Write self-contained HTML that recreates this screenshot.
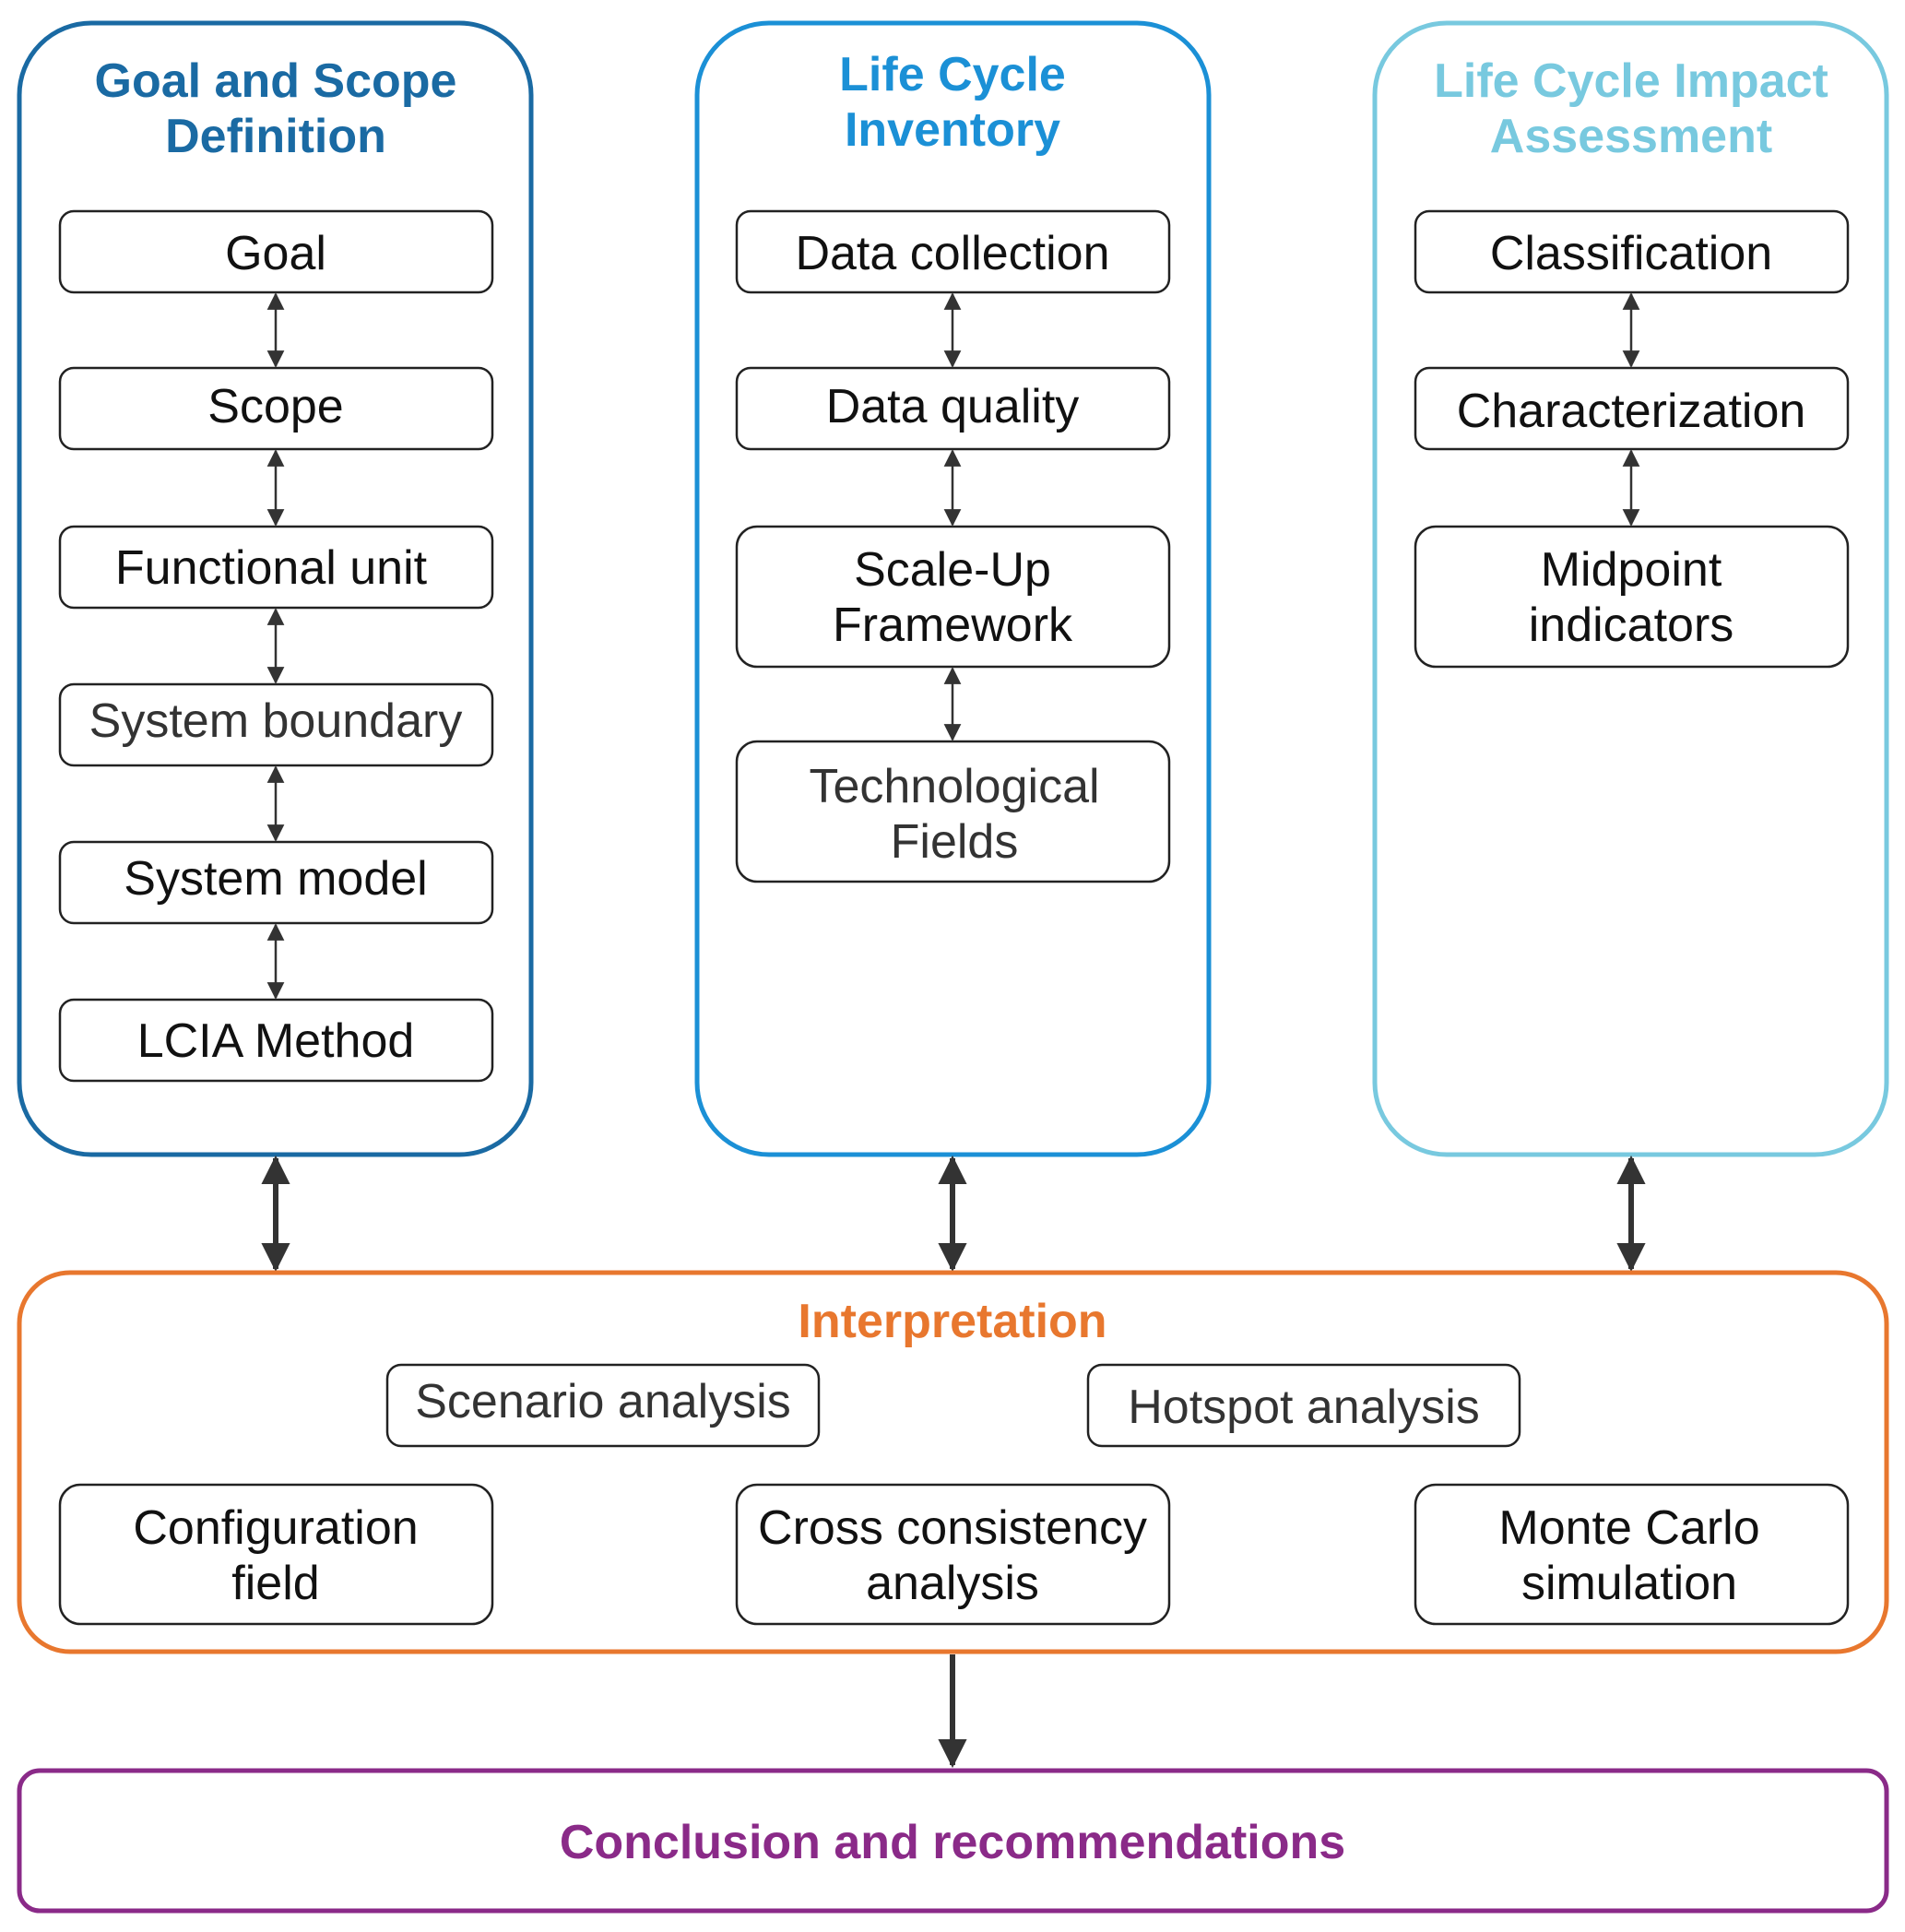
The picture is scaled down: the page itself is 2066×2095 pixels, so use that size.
<!DOCTYPE html>
<html><head><meta charset="utf-8"><style>
html,body{margin:0;padding:0;background:#fff}
svg{display:block}
text{font-family:"Liberation Sans",Arial,sans-serif;text-anchor:middle}
.t{font-size:52px;fill:#111}
.g{fill:#333}
.h{font-size:52px;font-weight:bold}
</style></head><body>
<svg width="2066" height="2095" viewBox="0 0 2066 2095" xmlns="http://www.w3.org/2000/svg">
<defs>
<marker id="a" viewBox="0 0 10 10" refX="9" refY="5" markerWidth="5.2" markerHeight="5.2" orient="auto-start-reverse"><path d="M0,0 L10,5 L0,10z" fill="#333"/></marker>
<marker id="b" viewBox="0 0 10 10" refX="9" refY="5" markerWidth="7.5" markerHeight="7.5" orient="auto-start-reverse"><path d="M0,0 L10,5 L0,10z" fill="#333"/></marker>
</defs>
<rect x="21" y="25" width="555" height="1227" rx="78" fill="none" stroke="#1a6aa3" stroke-width="5"/>
<rect x="756" y="25" width="555" height="1227" rx="78" fill="none" stroke="#1b90d6" stroke-width="5"/>
<rect x="1491" y="25" width="555" height="1227" rx="78" fill="none" stroke="#78c9df" stroke-width="5"/>
<text class="h" x="299" y="105" fill="#1a6aa3">Goal and Scope</text>
<text class="h" x="299" y="165" fill="#1a6aa3">Definition</text>
<text class="h" x="1033" y="98" fill="#1b90d6">Life Cycle</text>
<text class="h" x="1033" y="158" fill="#1b90d6">Inventory</text>
<text class="h" x="1769" y="105" fill="#78c9df">Life Cycle Impact</text>
<text class="h" x="1769" y="165" fill="#78c9df">Assessment</text>
<g fill="#fff" stroke="#222" stroke-width="2.5">
<rect x="65" y="229" width="469" height="88" rx="15"/>
<rect x="65" y="399" width="469" height="88" rx="15"/>
<rect x="65" y="571" width="469" height="88" rx="15"/>
<rect x="65" y="742" width="469" height="88" rx="15"/>
<rect x="65" y="913" width="469" height="88" rx="15"/>
<rect x="65" y="1084" width="469" height="88" rx="15"/>
<rect x="799" y="229" width="469" height="88" rx="15"/>
<rect x="799" y="399" width="469" height="88" rx="15"/>
<rect x="799" y="571" width="469" height="152" rx="22"/>
<rect x="799" y="804" width="469" height="152" rx="22"/>
<rect x="1535" y="229" width="469" height="88" rx="15"/>
<rect x="1535" y="399" width="469" height="88" rx="15"/>
<rect x="1535" y="571" width="469" height="152" rx="22"/>
</g>
<text class="t" x="299" y="292">Goal</text>
<text class="t" x="299" y="458">Scope</text>
<text class="t" x="294" y="633">Functional unit</text>
<text class="t g" x="299" y="799">System boundary</text>
<text class="t" x="299" y="970">System model</text>
<text class="t" x="299" y="1146">LCIA Method</text>
<text class="t" x="1033" y="292">Data collection</text>
<text class="t" x="1033" y="458">Data quality</text>
<text class="t" x="1033" y="635">Scale-Up</text>
<text class="t" x="1033" y="695">Framework</text>
<text class="t g" x="1035" y="870">Technological</text>
<text class="t g" x="1035" y="930">Fields</text>
<text class="t" x="1769" y="292">Classification</text>
<text class="t" x="1769" y="463">Characterization</text>
<text class="t" x="1769" y="635">Midpoint</text>
<text class="t" x="1769" y="695">indicators</text>
<g stroke="#333" stroke-width="2.5" marker-start="url(#b)" marker-end="url(#b)">
<line x1="299" y1="319" x2="299" y2="397"/>
<line x1="299" y1="489" x2="299" y2="569"/>
<line x1="299" y1="661" x2="299" y2="740"/>
<line x1="299" y1="832" x2="299" y2="911"/>
<line x1="299" y1="1003" x2="299" y2="1082"/>
<line x1="1033" y1="319" x2="1033" y2="397"/>
<line x1="1033" y1="489" x2="1033" y2="569"/>
<line x1="1033" y1="725" x2="1033" y2="802"/>
<line x1="1769" y1="319" x2="1769" y2="397"/>
<line x1="1769" y1="489" x2="1769" y2="569"/>
</g>
<g stroke="#333" stroke-width="6" marker-start="url(#a)" marker-end="url(#a)">
<line x1="299" y1="1256" x2="299" y2="1376"/>
<line x1="1033" y1="1256" x2="1033" y2="1376"/>
<line x1="1769" y1="1256" x2="1769" y2="1376"/>
</g>
<line x1="1033" y1="1794" x2="1033" y2="1914" stroke="#333" stroke-width="6" marker-end="url(#a)"/>
<rect x="21" y="1380" width="2025" height="411" rx="55" fill="none" stroke="#e8772e" stroke-width="5"/>
<text class="h" x="1033" y="1450" fill="#e8772e">Interpretation</text>
<g fill="#fff" stroke="#222" stroke-width="2.5">
<rect x="420" y="1480" width="468" height="88" rx="15"/>
<rect x="1180" y="1480" width="468" height="88" rx="15"/>
<rect x="65" y="1610" width="469" height="151" rx="22"/>
<rect x="799" y="1610" width="469" height="151" rx="22"/>
<rect x="1535" y="1610" width="469" height="151" rx="22"/>
</g>
<text class="t g" x="654" y="1537">Scenario analysis</text>
<text class="t g" x="1414" y="1543">Hotspot analysis</text>
<text class="t" x="299" y="1674">Configuration</text>
<text class="t" x="299" y="1734">field</text>
<text class="t" x="1033" y="1674">Cross consistency</text>
<text class="t" x="1033" y="1734">analysis</text>
<text class="t" x="1767" y="1674">Monte Carlo</text>
<text class="t" x="1767" y="1734">simulation</text>
<rect x="21" y="1920" width="2025" height="152" rx="22" fill="none" stroke="#8a2a88" stroke-width="5"/>
<text class="h" x="1033" y="2015" fill="#8a2a88">Conclusion and recommendations</text>
</svg>
</body></html>
